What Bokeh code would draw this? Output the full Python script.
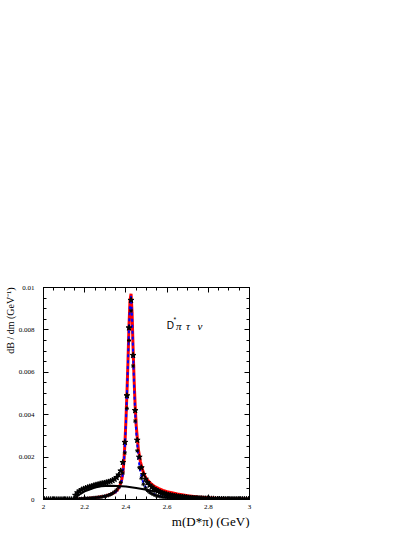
import math
from bokeh.plotting import figure
from bokeh.models import (Label, LinearAxis, SingleIntervalTicker, Title,
                          CustomJSTickFormatter, Range1d)
from bokeh.embed import file_html
from bokeh.resources import INLINE

# ---------------- data ----------------
# x grid for the smooth curves
LINE_X = [2.00, 2.05, 2.10, 2.15, 2.20, 2.25, 2.30, 2.33, 2.35, 2.36, 2.37,
          2.38, 2.385, 2.39, 2.395, 2.40, 2.405, 2.41, 2.415, 2.42, 2.425,
          2.43, 2.435, 2.44, 2.445, 2.45, 2.46, 2.47, 2.48, 2.49, 2.50, 2.52,
          2.54, 2.56, 2.58, 2.60, 2.65, 2.70, 2.75, 2.80, 2.85, 2.90, 2.95, 3.00]

# red curve (resonance, full lineshape)
RED = [float("nan"), float("nan"), float("nan"), 0.0, 0.00004, 0.00008, 0.00016,
       0.00026, 0.00036, 0.00047, 0.00063, 0.00094, 0.00125, 0.00175, 0.0026,
       0.0037, 0.0050, 0.0065, 0.0082, 0.0094, 0.0097, 0.0088, 0.0071, 0.0056,
       0.0044, 0.0035, 0.0024, 0.0018, 0.00142, 0.00115, 0.00097, 0.00076,
       0.00061, 0.00051, 0.00043, 0.00037, 0.00026, 0.00018, 0.00012, 0.00008,
       0.00005, 0.00003, 0.00002, 0.00001]

# blue dashed curve (resonance, Breit-Wigner)
BLUE = [0.0, 0.0, 0.0, 0.0, 0.00004, 0.00008, 0.00016, 0.00026, 0.00035,
        0.00045, 0.00060, 0.00090, 0.0012, 0.0017, 0.0025, 0.0036, 0.0049,
        0.0064, 0.0081, 0.0093, 0.0096, 0.0086, 0.0069, 0.0053, 0.0041, 0.0032,
        0.0020, 0.0013, 0.00092, 0.00068, 0.00052, 0.00034, 0.00024, 0.00017,
        0.00013, 0.00010, 0.00006, 0.00004, 0.00002, 0.00001, 0.0, 0.0, 0.0, 0.0]

# black solid curve (non-resonant part)
NONRES_X = [2.15, 2.16, 2.17, 2.18, 2.20, 2.22, 2.25, 2.28, 2.30, 2.33, 2.36,
            2.40, 2.45, 2.50, 2.55, 2.60, 2.65, 2.70, 2.75, 2.80, 2.85, 2.90,
            2.95, 3.00]
NONRES = [0.0, 0.00012, 0.00020, 0.00027, 0.00038, 0.00046, 0.00056, 0.00062,
          0.00064, 0.00065, 0.00064, 0.00061, 0.00054, 0.00046, 0.00037,
          0.00028, 0.00021, 0.00015, 0.00010, 0.00007, 0.00004, 0.00002,
          0.00001, 0.0]

# bin centres for the marker series
STAR_X = [round(2.005 + 0.01 * i, 3) for i in range(100)]

# black stars (total)
STARS = ([0.0] * 15 +
         [0.00020, 0.00032, 0.00040, 0.00046, 0.00050, 0.00054, 0.00057, 0.00060, 0.00063, 0.00066,
          0.00069, 0.00071, 0.00074, 0.00076, 0.00078, 0.00080, 0.00083, 0.00086, 0.00090, 0.00096,
          0.00104, 0.00116, 0.00135, 0.00175, 0.0027,
          0.0049, 0.0081, 0.0094, 0.0068, 0.0042, 0.0028, 0.0020, 0.00150, 0.00118, 0.00096,
          0.00080, 0.00068, 0.00059, 0.00051, 0.00045, 0.00040, 0.00035, 0.00031, 0.00028, 0.00025,
          0.00022, 0.00020, 0.00018, 0.00016, 0.00015, 0.00013, 0.00012, 0.00011, 0.00010, 0.00009,
          0.00008, 0.00007, 0.00007, 0.00006, 0.00006, 0.00005, 0.00005, 0.00004, 0.00004, 0.00004,
          0.00003, 0.00003, 0.00003, 0.00002, 0.00002, 0.00002, 0.00002, 0.00002, 0.00001, 0.00001] +
         [0.00001] * 10)

# small markers (resonant part), from 2.155 on
RES_PTS_X = STAR_X[15:]
RES_PTS = [0.00002, 0.00003, 0.00003, 0.00004, 0.00004, 0.00005, 0.00006, 0.00006, 0.00007, 0.00008,
           0.00009, 0.00010, 0.00011, 0.00013, 0.00015, 0.00017, 0.00020, 0.00024, 0.00029, 0.00036,
           0.00045, 0.00058, 0.00080, 0.00125, 0.0022, 0.0043, 0.0075, 0.0089, 0.0063, 0.0037,
           0.0023, 0.0015, 0.0010, 0.00072, 0.00054, 0.00042, 0.00034, 0.00028, 0.00023, 0.00019,
           0.00016, 0.00014, 0.00012, 0.00010, 0.00009, 0.00008, 0.00007, 0.00006, 0.00006, 0.00005,
           0.00005, 0.00004, 0.00004, 0.00003, 0.00003, 0.00003, 0.00003, 0.00002, 0.00002, 0.00002,
           0.00002, 0.00002, 0.00002, 0.00001, 0.00001, 0.00001, 0.00001, 0.00001, 0.00001, 0.00001,
           0.00001, 0.00001, 0.00001, 0.00001, 0.00001, 0.0, 0.0, 0.0, 0.0, 0.0,
           0.0, 0.0, 0.0, 0.0, 0.0]

X_RANGE = (2.0, 3.0)
Y_RANGE = (0.0, 0.01)
X_TICK_STEP = 0.2
Y_TICK_STEP = 0.002
X_TITLE = "m(D*π) (GeV)"
Y_TITLE = "dB / dm (GeV⁻¹)"

# ---------------- figure ----------------
p = figure(frame_width=206, frame_height=212,
           min_border_left=43, min_border_top=287,
           min_border_bottom=24, min_border_right=12,
           x_range=Range1d(*X_RANGE), y_range=Range1d(*Y_RANGE),
           output_backend="svg", toolbar_location=None)
p.xgrid.visible = False
p.ygrid.visible = False
p.outline_line_color = "black"
p.outline_line_width = 1
p.background_fill_color = "white"
p.border_fill_color = "white"

fmt_code = "return String(Math.round(tick*1e6)/1e6);"
blank_code = "return '';"

def style_axis(ax, step, labels=True, standoff=5):
    ax.ticker = SingleIntervalTicker(interval=step, num_minor_ticks=4)
    ax.major_tick_in = 5
    ax.major_tick_out = 0
    ax.minor_tick_in = 3
    ax.minor_tick_out = 0
    ax.axis_line_color = "black"
    ax.major_tick_line_color = "black"
    ax.minor_tick_line_color = "black"
    ax.major_label_text_font = "Liberation Serif"
    ax.major_label_text_font_size = "7px"
    ax.major_label_text_color = "black"
    ax.major_label_standoff = standoff
    if labels:
        ax.formatter = CustomJSTickFormatter(code=fmt_code)
    else:
        ax.formatter = CustomJSTickFormatter(code=blank_code)
        ax.major_label_text_font_size = "0px"
        ax.major_label_standoff = 0

style_axis(p.xaxis[0], X_TICK_STEP, standoff=5)
style_axis(p.yaxis[0], Y_TICK_STEP, standoff=9)

top_ax = LinearAxis()
style_axis(top_ax, X_TICK_STEP, labels=False)
p.add_layout(top_ax, "above")
right_ax = LinearAxis()
style_axis(right_ax, Y_TICK_STEP, labels=False)
p.add_layout(right_ax, "right")

# axis titles as side-panel titles (aligned to the end of each axis)
p.add_layout(Title(text=X_TITLE, align="right", text_font="Liberation Serif",
                   text_font_size="13px", text_font_style="normal",
                   text_color="black", standoff=0, offset=0), "below")
p.add_layout(Title(text=Y_TITLE, align="right", text_font="Liberation Serif",
                   text_font_size="10px", text_font_style="normal",
                   text_color="black", standoff=0, offset=0), "left")

# ---------------- glyphs ----------------
p.line(LINE_X, RED, line_color="#ff0000", line_width=3)
p.line(LINE_X, BLUE, line_color="#0000ff", line_width=2, line_dash="3 3")
p.line(NONRES_X, NONRES, line_color="black", line_width=2)
p.scatter(RES_PTS_X, RES_PTS, marker="asterisk", size=4, line_color="black",
          line_width=1)
p.scatter(STAR_X, STARS, marker="star", size=6, fill_color="black",
          line_color="black")

# ---------------- process label  D* pi tau nu ----------------
def lab(**kw):
    kw.setdefault("text_color", "black")
    kw.setdefault("text_baseline", "middle")
    kw.setdefault("text_align", "left")
    p.add_layout(Label(**kw))

lab(x=2.598, y=0.0082, text="D", text_font="Liberation Sans", text_font_size="10px")
lab(x=2.631, y=0.0085, text="*", text_font="Liberation Sans", text_font_size="7px")
lab(x=2.643, y=0.0082, text="π", text_font="Liberation Serif",
    text_font_style="italic", text_font_size="11px")
lab(x=2.692, y=0.0082, text="τ", text_font="Liberation Serif",
    text_font_style="italic", text_font_size="11px")
lab(x=2.748, y=0.0082, text="ν", text_font="Liberation Serif",
    text_font_style="italic", text_font_size="11px")

open("out.html", "w").write(file_html(p, INLINE))
